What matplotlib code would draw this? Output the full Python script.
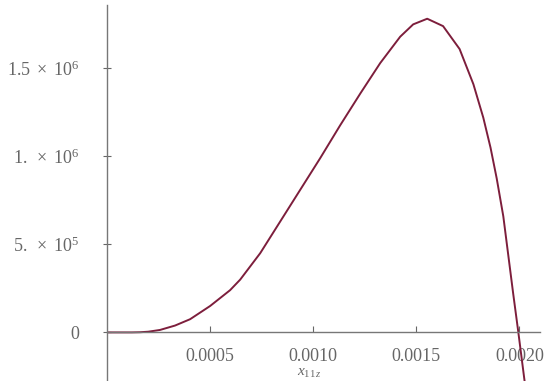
import matplotlib
matplotlib.use('Agg')
import matplotlib.pyplot as plt

# curve values
xs = [0.0, 0.00012, 0.00016, 0.0002, 0.000257, 0.00033, 0.000403, 0.0005,
      0.000597, 0.000646, 0.000743, 0.00084, 0.000937, 0.001034, 0.00113,
      0.00123, 0.001325, 0.001422, 0.001485, 0.001553, 0.00163, 0.00171,
      0.001777, 0.001825, 0.00186, 0.00189, 0.001922, 0.00197, 0.001995,
      0.00203]
ys = [0.0, 0.0, 1.0e3, 4.0e3, 1.4e4, 3.9e4, 7.5e4, 1.5e5,
      2.4e5, 3.0e5, 4.5e5, 6.3e5, 8.1e5, 9.9e5, 1.175e6,
      1.36e6, 1.53e6, 1.68e6, 1.75e6, 1.782e6, 1.74e6, 1.61e6,
      1.41e6, 1.22e6, 1.05e6, 8.75e5, 6.6e5, 2.2e5, 0.0,
      -3.2e5]

xticks = [0.0005, 0.0010, 0.0015, 0.0020]
xlabels = ['0.0005', '0.0010', '0.0015', '0.0020']
yticks = [0, 5e5, 1e6, 1.5e6]
ylabels = ['0', r'$5.\ \times\ 10^{5}$', r'$1.\ \times\ 10^{6}$', r'$1.5\ \times\ 10^{6}$']

plt.rcParams['font.family'] = 'Liberation Serif'
plt.rcParams['mathtext.fontset'] = 'custom'
plt.rcParams['mathtext.rm'] = 'Liberation Serif'
plt.rcParams['mathtext.it'] = 'Liberation Serif:italic'

fig = plt.figure(figsize=(5.51, 3.81), dpi=100)
ax = fig.add_axes([107 / 551, 0, 433 / 551, 376 / 381])
ax.plot(xs, ys, color='#7d1e3c', lw=1.4, solid_joinstyle='round')

ax.set_xlim(0, 0.0021)
ax.set_ylim(-2.76e5, 1.86e6)
ax.spines['left'].set_position(('data', 0))
ax.spines['bottom'].set_position(('data', 0))
ax.spines['right'].set_visible(False)
ax.spines['top'].set_visible(False)
for s in ('left', 'bottom'):
    ax.spines[s].set_color('#777777')
    ax.spines[s].set_linewidth(1.0)

ax.set_xticks(xticks)
ax.set_xticklabels(xlabels)
ax.set_yticks(yticks)
ax.set_yticklabels(ylabels)
ax.tick_params(colors='#666666', labelsize=13, direction='in', length=4)
ax.tick_params(axis='x', pad=11)
ax.tick_params(axis='y', direction='inout', length=6, pad=17, labelsize=13)
ax.text(0.00098, -2.35e5, r'$x_{11\,z}$', color='#666666', fontsize=11,
        ha='center', va='center')

fig.savefig('out.png', dpi=100)
